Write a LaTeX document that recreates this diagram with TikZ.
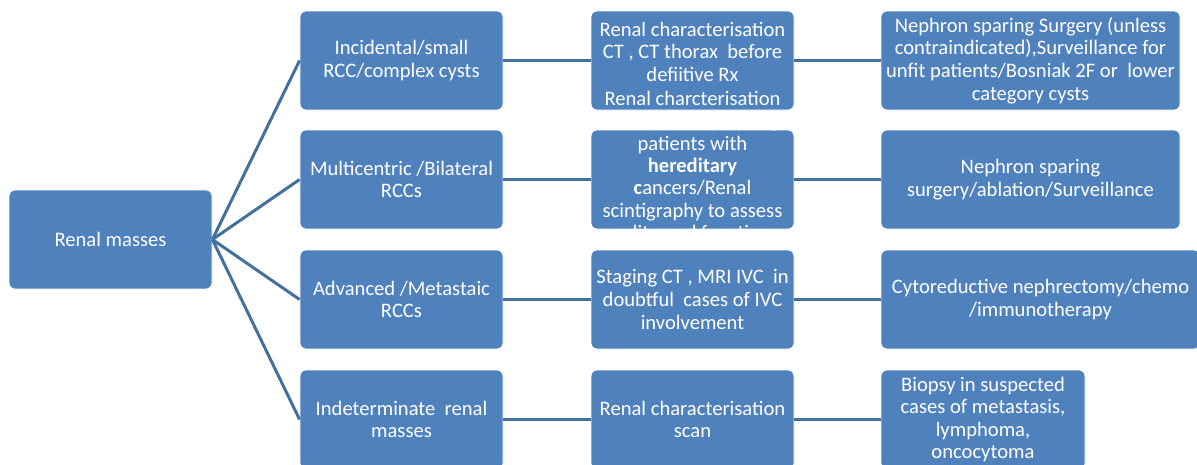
\documentclass[tikz,border=0pt]{standalone}
\usepackage{fontspec}
\setmainfont{Carlito}
\definecolor{boxblue}{HTML}{4F81BD}
\definecolor{lineblue}{HTML}{41719C}
\begin{document}
\begin{tikzpicture}[x=1pt,y=-1pt,
  box/.style={fill=boxblue, draw=white, line width=0.8pt, rounded corners=6pt,
    text=white, align=center, font=\fontsize{20.6}{22.6}\selectfont, inner sep=0pt,
    minimum height=99pt},
  txt/.style={text=white, align=center, font=\fontsize{20.6}{22.3}\selectfont, inner sep=0pt},
  conn/.style={draw=lineblue, line width=3pt}]
\useasboundingbox (0,0) rectangle (1197,464);
\clip (0,0) rectangle (1197,464);
% root
\node[box, minimum width=203pt] (r) at (110.5,239.5) {Renal masses};
% level 1
\node[box, minimum width=203pt] (a1) at (401.5,60.5) {Incidental/small\\RCC/complex cysts};
\node[box, minimum width=203pt] (a2) at (401.5,179.5) {Multicentric /Bilateral\\RCCs};
\node[box, minimum width=203pt] (a3) at (401.5,299.5) {Advanced /Metastaic\\RCCs};
\node[box, minimum width=203pt] (a4) at (401.5,419.5) {Indeterminate\ \ renal\\masses};
% level 2
\node[box, minimum width=203pt] (b1) at (692.5,60.5) {Renal characterisation\\CT , CT thorax\ \ before\\defiitive Rx\\[-5pt]\phantom{x}};
\node[box, minimum width=203pt] (b2) at (692.5,179.5) {};
\node[box, minimum width=203pt] (b3) at (692.5,299.5) {Staging CT , MRI IVC\ \ in\\doubtful\ \ cases of IVC\\involvement};
\node[box, minimum width=203pt] (b4) at (692.5,419.5) {Renal characterisation\\scan};
% level 3
\node[box, minimum width=299pt] (c1) at (1030.5,60.5) {Nephron sparing Surgery (unless\\contraindicated),Surveillance for\\unfit patients/Bosniak 2F or\ \ lower\\category cysts};
\node[box, minimum width=299pt] (c2) at (1030.5,179.5) {Nephron sparing\\surgery/ablation/Surveillance};
\node[box, minimum width=319pt] (c3) at (1040.5,299.5) {Cytoreductive nephrectomy/chemo\\/immunotherapy};
\node[box, minimum width=204pt] (c4) at (983,419.5) {Biopsy in suspected\\cases of metastasis,\\lymphoma,\\oncocytoma};
% overflowing text of b2
\node[txt] (b2text) at (692.5,167) {Renal charcterisation\\Isotope study, young\\patients with\\\textbf{hereditary}\\\textbf{c}ancers/Renal\\scintigraphy to assess\\split renal function};
% connectors
\foreach \n in {a1,a2,a3,a4} \draw[conn] (r.east) -- (\n.west);
\foreach \i in {1,2,3,4} {
  \draw[conn] (a\i.east) -- (b\i.west);
  \draw[conn] (b\i.east) -- (c\i.west);
}
\end{tikzpicture}
\end{document}
